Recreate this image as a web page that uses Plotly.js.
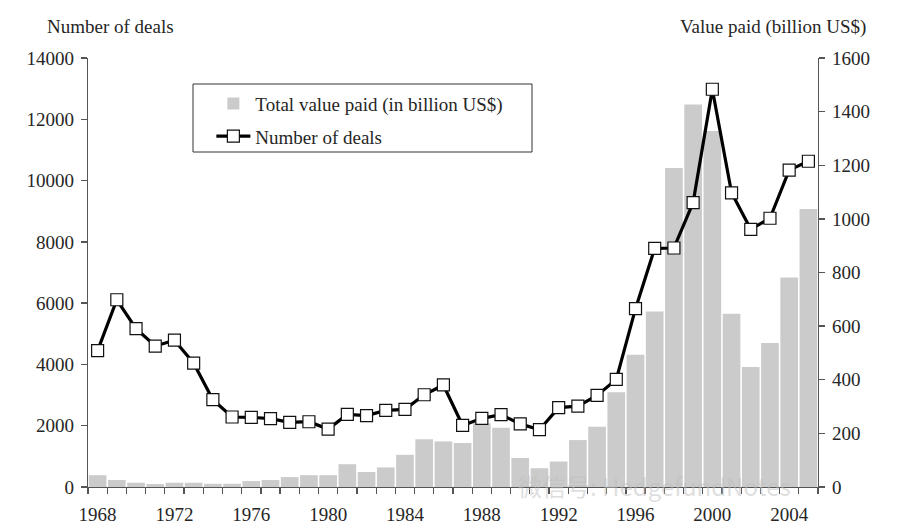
<!DOCTYPE html>
<html>
<head>
<meta charset="utf-8">
<script src="https://cdn.plot.ly/plotly-3.0.1.min.js"></script>
<style>html,body{margin:0;padding:0;background:#fff;}#chart{width:897px;height:530px;}</style>
</head>
<body>
<div id="chart"></div>
<script>
var years = [1968,1969,1970,1971,1972,1973,1974,1975,1976,1977,1978,1979,1980,1981,1982,1983,1984,1985,1986,1987,1988,1989,1990,1991,1992,1993,1994,1995,1996,1997,1998,1999,2000,2001,2002,2003,2004,2005];
var valuePaid = [44,26,16,11,16,16,12,12,22,26,37,44,44,85,56,73,120,178,170,164,238,221,108,70,95,175,225,353,493,655,1190,1427,1328,646,448,537,781,1037];
var numDeals = [4450,6110,5170,4600,4790,4040,2850,2285,2275,2230,2110,2130,1890,2370,2330,2500,2535,3010,3330,2010,2240,2360,2060,1870,2590,2640,2990,3510,5820,7790,7800,9280,12980,9600,8410,8770,10340,10630];
var yearTicks = [1968,1972,1976,1980,1984,1988,1992,1996,2000,2004];
var dealTicks = [0,2000,4000,6000,8000,10000,12000,14000];
var valueTicks = [0,200,400,600,800,1000,1200,1400,1600];

var serif = "'Liberation Serif', 'Times New Roman', serif";
var textCol = "#262626";
var axCol = "#555";
var fs = 19;

var traces = [
  {type:'bar', x:years, y:valuePaid, yaxis:'y', name:'Total value paid (in billion US$)', legendgroup:'a',
   marker:{color:'#cbcbcb', line:{width:0}}, width:0.92},
  {type:'scatter', mode:'lines+markers', x:years, y:numDeals, yaxis:'y2', name:'Number of deals', legendgroup:'b',
   line:{color:'#000', width:3.2}, marker:{symbol:'square', size:12, color:'#fff', line:{color:'#111', width:1.2}}}
];

var layout = {
  width:897, height:530,
  margin:{l:88, r:79, t:58, b:43},
  paper_bgcolor:'#fff', plot_bgcolor:'#fff',
  font:{family:serif, size:fs, color:textCol},
  showlegend:true,
  legend:{x:0.169, y:0.938, xanchor:'left', yanchor:'top', bgcolor:'rgba(0,0,0,0)', borderwidth:0,
          font:{family:serif, size:fs, color:textCol}, traceorder:'grouped', tracegroupgap:5, itemwidth:34},
  xaxis:{range:[1967.5,2005.5], tickvals:yearTicks, ticktext:yearTicks.map(String), ticks:'', showgrid:false,
         zeroline:false, showline:true, linecolor:axCol, linewidth:1.3, ticklabelstandoff:10,
         tickfont:{family:serif, size:fs, color:textCol},
         minor:{tick0:1967.5, dtick:1, ticks:'outside', ticklen:6, tickcolor:axCol, tickwidth:1.3, showgrid:false}},
  yaxis:{range:[0,1600], tickvals:valueTicks, ticktext:valueTicks.map(String), ticks:'outside', ticklen:6, tickcolor:axCol, tickwidth:1.3,
         side:'right', showgrid:false, zeroline:false, showline:true, linecolor:axCol, linewidth:1.3,
         tickfont:{family:serif, size:fs, color:textCol}, ticklabelstandoff:3},
  yaxis2:{range:[0,14000], tickvals:dealTicks, ticktext:dealTicks.map(String), ticks:'outside', ticklen:6, tickcolor:axCol, tickwidth:1.3,
          side:'left', overlaying:'y', showgrid:false, zeroline:false, showline:true, linecolor:axCol, linewidth:1.3,
          tickfont:{family:serif, size:fs, color:textCol}, ticklabelstandoff:3},
  bargap:0.08,
  shapes:[
    {type:'rect', xref:'paper', yref:'paper', x0:(193-88)/730, x1:(532-88)/730, y0:(487-152)/429, y1:(487-84)/429,
     line:{color:'#333', width:1}, fillcolor:'rgba(0,0,0,0)'}
  ],
  annotations:[
    {xref:'paper', yref:'paper', x:(45-88)/730, y:(487-27)/429, xanchor:'left', yanchor:'middle', showarrow:false,
     text:'Number of deals', font:{family:serif, size:fs, color:textCol}},
    {xref:'paper', yref:'paper', x:(868-88)/730, y:(487-27)/429, xanchor:'right', yanchor:'middle', showarrow:false,
     text:'Value paid (billion US$)', font:{family:serif, size:fs, color:textCol}},
    {xref:'paper', yref:'paper', x:(516-88)/730, y:(487-485)/429, xanchor:'left', yanchor:'middle', showarrow:false,
     text:'微信号: HedgefundNotes', font:{family:"'Noto Sans CJK SC', sans-serif", size:24, color:'rgba(190,190,190,0.5)'}}
  ]
};

Plotly.newPlot('chart', traces, layout, {displayModeBar:false, staticPlot:true});
</script>
</body>
</html>
